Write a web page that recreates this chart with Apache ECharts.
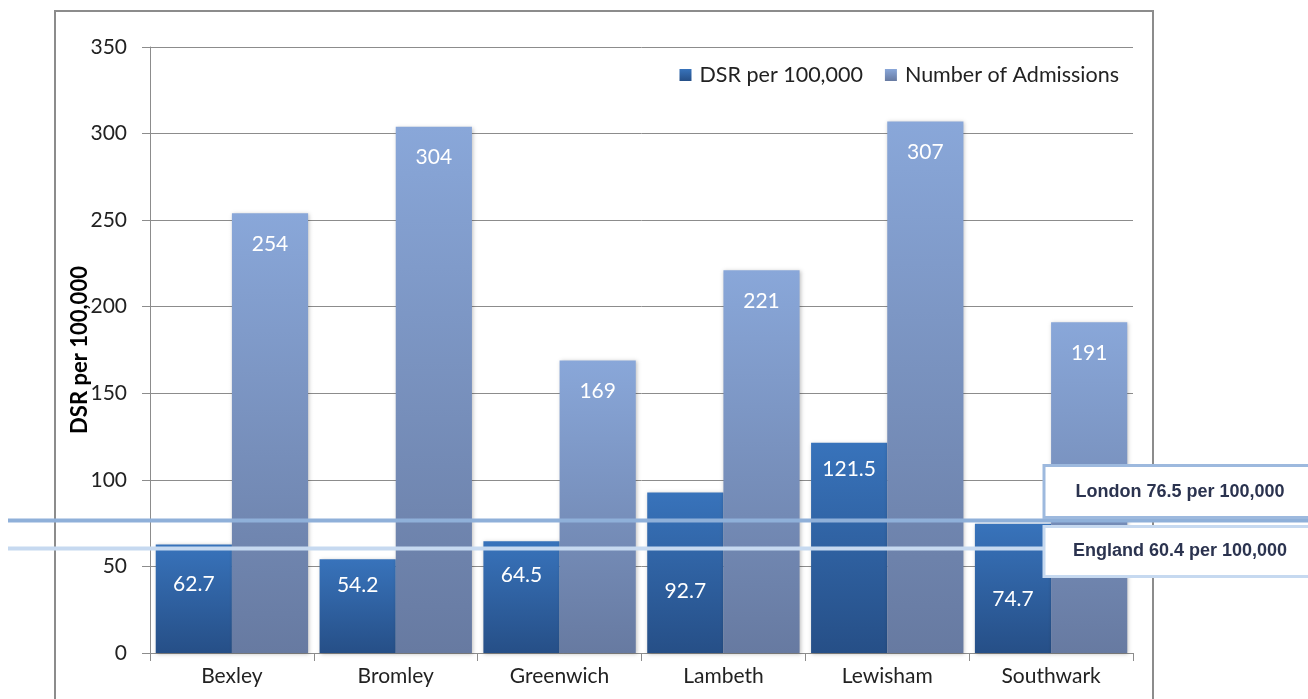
<!DOCTYPE html>
<html>
<head>
<meta charset="utf-8">
<script src="https://cdn.jsdelivr.net/npm/echarts@6/dist/echarts.min.js"></script>
<style>
html,body{margin:0;padding:0;background:#fff;}
#chart{width:1308px;height:699px;}
</style>
</head>
<body>
<div id="chart"></div>
<script>
// ---- data ----
const categories = ['Bexley', 'Bromley', 'Greenwich', 'Lambeth', 'Lewisham', 'Southwark'];
const dsrValues = [62.7, 54.2, 64.5, 92.7, 121.5, 74.7];
const admissionValues = [254, 304, 169, 221, 307, 191];
const seriesNames = ['DSR per 100,000', 'Number of Admissions'];
const yAxisTitle = 'DSR per 100,000';
const refLines = [
  { name: 'London', value: 76.5, label: 'London 76.5 per 100,000' },
  { name: 'England', value: 60.4, label: 'England 60.4 per 100,000' }
];
const yMin = 0, yMax = 350, yInterval = 50;

// ---- styles ----
const FONT = 'Lato, "Open Sans", sans-serif';
const dsrLabelDrop = [40, 26, 34, 99, 27, 76]; // px below bar top (label centre)
const admLabelDrop = 31;
const refStyles = {
  London: { line: '#8fb0d9', border: '#9db9de', boxTop: -55, boxBottom: -3 },
  England: { line: '#c6d9f0', border: '#c6d9f0', boxTop: -22, boxBottom: 28 }
};

const chart = echarts.init(document.getElementById('chart'), null, { renderer: 'canvas' });

const gradDsr = new echarts.graphic.LinearGradient(0, 0, 0, 1, [
  { offset: 0, color: '#3873bb' }, { offset: 1, color: '#264f87' }
]);
const gradAdm = new echarts.graphic.LinearGradient(0, 0, 0, 1, [
  { offset: 0, color: '#89a7d9' }, { offset: 1, color: '#677aa1' }
]);

const option = {
  animation: false,
  backgroundColor: '#fff',
  grid: { left: 150, right: 175, top: 47, bottom: 46, containLabel: false },
  legend: {
    data: seriesNames,
    right: 184, top: 59,
    itemWidth: 12, itemHeight: 12, itemGap: 22,
    icon: 'rect',
    textStyle: { fontFamily: FONT, fontSize: 21.5, color: '#222', padding: [0, 0, 0, 3] }
  },
  xAxis: {
    type: 'category',
    data: categories,
    axisLine: { lineStyle: { color: '#8c8c8c', width: 1 } },
    axisTick: { show: true, length: 8, lineStyle: { color: '#8c8c8c' } },
    axisLabel: { fontFamily: FONT, fontSize: 21, color: '#222', margin: 13 }
  },
  yAxis: {
    type: 'value',
    min: yMin, max: yMax, interval: yInterval,
    name: yAxisTitle,
    nameLocation: 'middle',
    nameGap: 59,
    nameMoveOverlap: false,
    nameRotate: 90,
    nameTextStyle: { fontFamily: FONT, fontSize: 22, fontWeight: 'bold', color: '#000' },
    axisLine: { show: true, lineStyle: { color: '#8c8c8c', width: 1 } },
    axisTick: { show: true, length: 8, lineStyle: { color: '#8c8c8c' } },
    axisLabel: { fontFamily: FONT, fontSize: 21, color: '#222', margin: 23 },
    splitLine: { lineStyle: { color: '#8c8c8c', width: 1 } }
  },
  series: [
    {
      name: seriesNames[0],
      type: 'bar',
      barGap: '0%',
      barCategoryGap: '7%',
      itemStyle: { color: gradDsr, shadowColor: 'rgba(0,0,0,0.25)', shadowBlur: 4, shadowOffsetX: 1, shadowOffsetY: 1 },
      data: dsrValues.map((v, i) => ({
        value: v,
        label: { position: ['50%', dsrLabelDrop[i]] }
      })),
      label: {
        show: true, align: 'center', verticalAlign: 'middle',
        fontFamily: FONT, fontSize: 21, color: '#fff'
      },
      z: 2
    },
    {
      name: seriesNames[1],
      type: 'bar',
      barGap: '0%',
      barCategoryGap: '7%',
      itemStyle: { color: gradAdm, shadowColor: 'rgba(0,0,0,0.25)', shadowBlur: 4, shadowOffsetX: 1, shadowOffsetY: 1 },
      data: admissionValues,
      label: {
        show: true, position: ['50%', admLabelDrop], align: 'center', verticalAlign: 'middle',
        fontFamily: FONT, fontSize: 21, color: '#fff'
      },
      z: 2
    }
  ]
};
chart.setOption(option);

function drawOverlays() {
  const graphics = [];
  // outer chart frame
  graphics.push({
    type: 'rect', z: 0, silent: true,
    shape: { x: 55, y: 11, width: 1098, height: 720 },
    style: { fill: 'none', stroke: '#8c8c8c', lineWidth: 2 }
  });
  refLines.forEach(r => {
    const y = chart.convertToPixel({ yAxisIndex: 0 }, r.value);
    const s = refStyles[r.name];
    graphics.push({
      type: 'line', z: 50, silent: true,
      shape: { x1: 8, y1: y, x2: 1308, y2: y },
      style: { stroke: s.line, lineWidth: 4 }
    });
  });
  refLines.forEach(r => {
    const y = chart.convertToPixel({ yAxisIndex: 0 }, r.value);
    const s = refStyles[r.name];
    graphics.push({
      type: 'rect', z: 60, silent: true,
      shape: { x: 1044, y: y + s.boxTop, width: 280, height: s.boxBottom - s.boxTop },
      style: { fill: '#fff', stroke: s.border, lineWidth: 3 }
    });
    graphics.push({
      type: 'text', z: 61, silent: true,
      x: 1180, y: y + (s.boxTop + s.boxBottom) / 2,
      style: {
        text: r.label, align: 'center', verticalAlign: 'middle',
        font: 'bold 18px "Liberation Sans", Arial, sans-serif', fill: '#2b334f'
      }
    });
  });
  chart.setOption({ graphic: graphics });
}
drawOverlays();
</script>
</body>
</html>
